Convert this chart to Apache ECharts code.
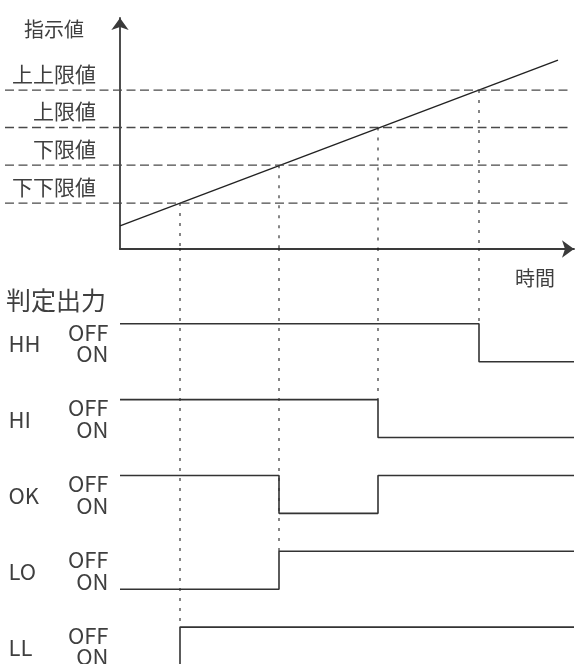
<!DOCTYPE html>
<html>
<head>
<meta charset="utf-8">
<script src="https://cdn.jsdelivr.net/npm/echarts@6/dist/echarts.min.js"></script>
<style>
html, body { margin: 0; background: #fff; }
#chart { width: 581px; height: 664px; }
</style>
</head>
<body>
<div id="chart"></div>
<script>
// 指示値のグラフ
const thresholdNames = ['下下限値', '下限値', '上限値', '上上限値']
const thresholdValues = [19.9, 36.3, 52.6, 68.8]
const crossTimes = [6, 15.9, 25.8, 35.9]
const indicator = [[0, 10], [43.8, 81.8]]
const timeEnd = 45.4

// 判定出力  state: 0 = OFF, 1 = ON
const signalNames = ['HH', 'HI', 'OK', 'LO', 'LL']
const stateNames = ['OFF', 'ON']
const hhSteps = [[0, 0], [35.9, 1], [timeEnd, 1]]
const hiSteps = [[0, 0], [25.8, 1], [timeEnd, 1]]
const okSteps = [[0, 0], [15.9, 1], [25.8, 0], [timeEnd, 0]]
const loSteps = [[0, 1], [15.9, 0], [timeEnd, 0]]
const llSteps = [[0, 1], [6, 0], [timeEnd, 0]]
// どの出力が各しきい値で切り替わるか
const crossRows = [4, 3, 1, 0]

const FONT = '"Noto Sans CJK JP", "Noto Sans", sans-serif'
const TEXT = '#3f3f3f'

const chart = echarts.init(document.getElementById('chart'))

function nearestIndex(list, v) {
	let best = 0
	list.map((x, i) => {
		if (Math.abs(x - v) < Math.abs(list[best] - v)) best = i
	})
	return best
}

var series = []
series.push({
	type: 'line',
	xAxisIndex: 0,
	yAxisIndex: 0,
	data: indicator,
	symbol: 'none',
	silent: true,
	lineStyle: { color: '#222', width: 1.4 },
})
thresholdValues.map((v) => {
	series.push({
		type: 'line',
		xAxisIndex: 1,
		yAxisIndex: 1,
		data: [[0, v], [1, v]],
		symbol: 'none',
		silent: true,
		lineStyle: { color: '#4a4a4a', width: 1.3, type: [9, 4.5] },
	})
})
crossTimes.map((t, i) => {
	// 上のグラフ部分
	series.push({
		type: 'line',
		xAxisIndex: 0,
		yAxisIndex: 0,
		data: [[t, thresholdValues[i]], [t, 0]],
		symbol: 'none',
		silent: true,
		lineStyle: { color: '#222', width: 1.1, type: [3, 7] },
	})
	// 判定出力部分
	series.push({
		type: 'line',
		xAxisIndex: 2,
		yAxisIndex: 2,
		data: [[t, -2], [t, crossRows[i] * 2]],
		symbol: 'none',
		silent: true,
		lineStyle: { color: '#222', width: 1.1, type: [3, 7] },
	})
})
;[hhSteps, hiSteps, okSteps, loSteps, llSteps].map((steps, r) => {
	series.push({
		type: 'line',
		name: signalNames[r],
		xAxisIndex: 2,
		yAxisIndex: 2,
		step: 'end',
		data: steps.map((p) => [p[0], r * 2 + p[1]]),
		symbol: 'none',
		silent: true,
		lineStyle: { color: '#333', width: 1.6 },
	})
})

// 左側の文字 (HH / OFF / ON)
const labelBase = {
	type: 'scatter',
	xAxisIndex: 2,
	yAxisIndex: 2,
	symbol: 'circle',
	symbolSize: 1,
	silent: true,
	clip: false,
	itemStyle: { color: 'rgba(0,0,0,0)' },
}
series.push({
	...labelBase,
	data: signalNames.map((n, r) => ({ value: [0, r * 2 + 0.53], name: n })),
	label: {
		show: true,
		position: 'left',
		distance: 111,
		align: 'left',
		verticalAlign: 'middle',
		formatter: '{b}',
		fontSize: 22,
		fontFamily: FONT,
		color: TEXT,
		opacity: 1,
	},
})
series.push({
	...labelBase,
	data: signalNames.flatMap((n, r) => [
		{ value: [0, r * 2 + 0.22], name: stateNames[0] },
		{ value: [0, r * 2 + 0.79], name: stateNames[1] },
	]),
	label: {
		show: true,
		position: 'left',
		distance: 11,
		align: 'right',
		verticalAlign: 'middle',
		formatter: '{b}',
		fontSize: 22,
		fontFamily: FONT,
		color: TEXT,
		opacity: 1,
	},
})

const hidden = {
	axisLine: { show: false },
	axisTick: { show: false },
	axisLabel: { show: false },
	splitLine: { show: false },
}

let options = {
	animation: false,
	grid: [
		{ left: 120, right: 7, top: 18, bottom: 415, outerBoundsMode: 'none' },
		{ left: 5, right: 9, top: 18, bottom: 415, outerBoundsMode: 'none' },
		{ left: 120, right: 7, top: 248, bottom: -1, outerBoundsMode: 'none' },
	],
	xAxis: [
		{
			gridIndex: 0,
			type: 'value',
			min: 0,
			max: timeEnd,
			axisLine: {
				show: true,
				symbol: ['none', 'arrow'],
				symbolSize: [13, 12],
				lineStyle: { color: '#3a3a3a', width: 1.8 },
			},
			axisTick: { show: false },
			axisLabel: { show: false },
			splitLine: { show: false },
		},
		{ gridIndex: 1, type: 'value', min: 0, max: 1, show: false },
		{ gridIndex: 2, type: 'value', min: 0, max: timeEnd, show: false },
	],
	yAxis: [
		{
			gridIndex: 0,
			type: 'value',
			min: 0,
			max: 100,
			axisLine: {
				show: true,
				symbol: ['none', 'arrow'],
				symbolSize: [13, 12],
				lineStyle: { color: '#3a3a3a', width: 1.8 },
			},
			axisTick: { show: false },
			splitLine: { show: false },
			axisLabel: {
				customValues: thresholdValues,
				formatter: (v) => thresholdNames[nearestIndex(thresholdValues, v)],
				showMinLabel: true,
				showMaxLabel: true,
				margin: 24,
				fontSize: 21,
				fontFamily: FONT,
				color: TEXT,
				verticalAlign: 'bottom',
				lineHeight: 32,
			},
		},
		{ gridIndex: 1, type: 'value', min: 0, max: 100, show: false },
		{ gridIndex: 2, type: 'value', min: -2, max: 9, inverse: true, ...hidden },
	],
	graphic: [
		{
			type: 'text',
			x: 54,
			y: 29,
			style: { text: '指示値', fontSize: 20, fontFamily: FONT, fill: TEXT, align: 'center', verticalAlign: 'middle' },
		},
		{
			type: 'text',
			x: 535,
			y: 278,
			style: { text: '時間', fontSize: 20, fontFamily: FONT, fill: TEXT, align: 'center', verticalAlign: 'middle' },
		},
		{
			type: 'text',
			x: 6,
			y: 300,
			style: { text: '判定出力', fontSize: 25, fontFamily: FONT, fill: TEXT, align: 'left', verticalAlign: 'middle' },
		},
	],
	series: series,
}
chart.setOption(options, true)
</script>
</body>
</html>
